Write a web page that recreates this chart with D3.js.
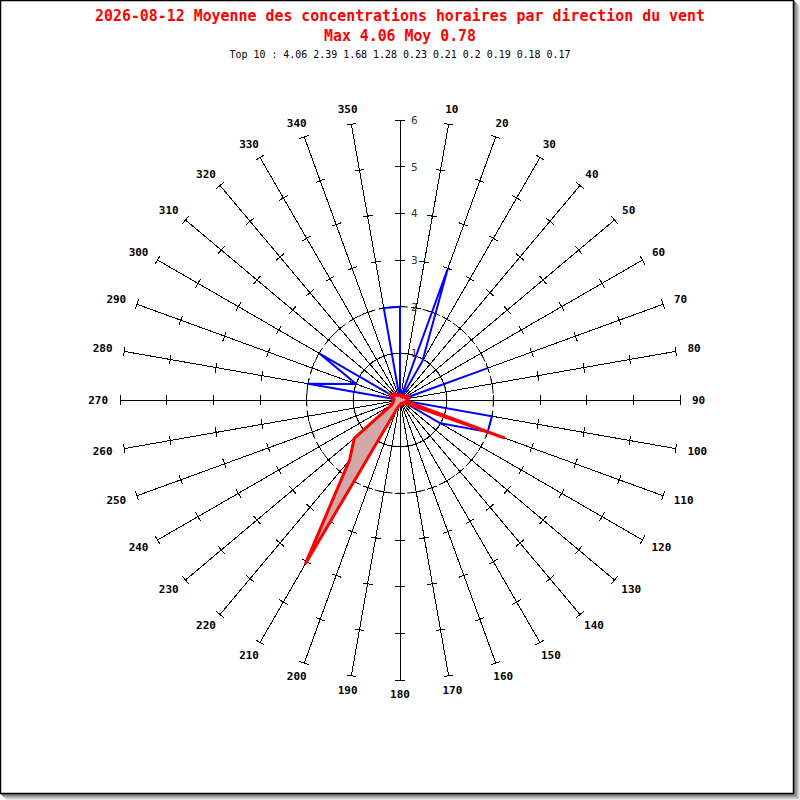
<!DOCTYPE html>
<html><head><meta charset="utf-8">
<script src="https://cdn.jsdelivr.net/npm/d3@7"></script>
<style>body{margin:0;background:#fff}svg{display:block}</style>
</head><body>
<svg id="chart" width="800" height="800"></svg>
<script>
// ---- data ----
const directions = [0,10,20,30,40,50,60,70,80,90,100,110,120,130,140,150,160,170,
                    180,190,200,210,220,230,240,250,260,270,280,290,300,310,320,330,340,350];
const seriesBlue = [2.0,0,3.0,0.96,0,0,0,2.0,0,0,2.0,2.0,1.0,0,0,0,0,0,
                    0,0,0,0,0,0,0,0,0,0,2.0,1.0,2.0,0,0,0,0,2.0];
const seriesRed  = [0.12,0.1,0.08,0.1,0.12,0.1,0.17,0.14,0.19,0.15,0.13,2.39,0.12,0.1,0.09,0.08,0.1,0.09,
                    0.11,0.13,0.2,4.06,1.68,1.28,0.21,0.16,0.14,0.15,0.13,0.16,0.23,0.15,0.18,0.12,0.1,0.11];
const radialTicks = [1,2,3,4,5,6];
const gridCircles = [1,2];
const titleText = "2026-08-12 Moyenne des concentrations horaires par direction du vent";
const subtitleText = "Max 4.06 Moy 0.78";
const top10 = [4.06,2.39,1.68,1.28,0.23,0.21,0.2,0.19,0.18,0.17];

// ---- layout ----
const svg = d3.select("#chart");
const cx = 400, cy = 400;
const r = d3.scaleLinear().domain([0, 6]).range([0, 280]);
const rad = d => d * Math.PI / 180;

// frame with shadow
const shadowCols = ["#777","#8a8a8a","#a0a0a0","#b8b8b8","#d0d0d0","#e6e6e6"];
shadowCols.slice().reverse().forEach((c, i) => {
  const o = 6 - i;
  svg.append("rect").attr("x", o).attr("y", o).attr("width", 794).attr("height", 794).attr("fill", c);
});
svg.append("rect").attr("x", 0.5).attr("y", 0.5).attr("width", 793).attr("height", 793)
   .attr("fill", "#fff").attr("stroke", "#000").attr("stroke-width", 1.5);

// titles
const mono = "'DejaVu Sans Mono', 'Liberation Mono', monospace";
svg.append("text").attr("x", 400).attr("y", 20.5).attr("text-anchor", "middle")
   .attr("font-family", mono).attr("font-weight", "bold").attr("font-size", 15)
   .attr("fill", "#ff0000").attr("textLength", 610).attr("lengthAdjust", "spacingAndGlyphs")
   .text(titleText);
svg.append("text").attr("x", 400).attr("y", 40.5).attr("text-anchor", "middle")
   .attr("font-family", mono).attr("font-weight", "bold").attr("font-size", 15)
   .attr("fill", "#ff0000").attr("textLength", 152).attr("lengthAdjust", "spacingAndGlyphs")
   .text(subtitleText);
svg.append("text").attr("x", 400).attr("y", 58).attr("text-anchor", "middle")
   .attr("font-family", mono).attr("font-size", 10.5)
   .attr("fill", "#000").attr("textLength", 341).attr("lengthAdjust", "spacingAndGlyphs")
   .text("Top 10 : " + top10.join(" "));

const g = svg.append("g").attr("transform", `translate(${cx},${cy})`);

// grid circles (dashed)
g.selectAll("circle.grid").data(gridCircles).join("circle")
  .attr("class", "grid").attr("r", d => r(d))
  .attr("fill", "none").attr("stroke", "#000").attr("stroke-width", 1)
  .attr("stroke-dasharray", "7,4");

// spokes
g.selectAll("line.spoke").data(directions).join("line")
  .attr("class", "spoke")
  .attr("x1", 0).attr("y1", 0)
  .attr("x2", d => d3.pointRadial(rad(d), r(6))[0])
  .attr("y2", d => d3.pointRadial(rad(d), r(6))[1])
  .attr("stroke", "#000").attr("stroke-width", 1).attr("shape-rendering", "crispEdges");

// ticks on each spoke
const tickData = [];
directions.forEach(a => radialTicks.forEach(t => tickData.push({a, t})));
g.selectAll("line.tick").data(tickData).join("line")
  .attr("class", "tick")
  .each(function(d) {
    const [px, py] = d3.pointRadial(rad(d.a), r(d.t));
    const ux = Math.cos(rad(d.a)), uy = Math.sin(rad(d.a));
    d3.select(this).attr("x1", px - 5 * ux).attr("y1", py - 5 * uy)
      .attr("x2", px + 5 * ux).attr("y2", py + 5 * uy);
  })
  .attr("stroke", "#000").attr("stroke-width", 1).attr("shape-rendering", "crispEdges");

// plots
const line = d3.lineRadial()
  .angle((d, i) => rad(directions[i]))
  .radius(d => r(d))
  .curve(d3.curveLinearClosed);

g.append("path").datum(seriesBlue)
  .attr("d", line).attr("fill", "none")
  .attr("stroke", "#0000ff").attr("stroke-width", 2).attr("stroke-linejoin", "miter");

g.append("path").datum(seriesRed)
  .attr("d", line).attr("fill", "#d4a8a8")
  .attr("stroke", "#ff0000").attr("stroke-width", 3).attr("stroke-linejoin", "miter");

// radial tick labels on the 0° spoke
g.selectAll("text.rlab").data(radialTicks).join("text")
  .attr("class", "rlab")
  .attr("x", 11).attr("y", d => -r(d))
  .attr("dominant-baseline", "central")
  .attr("font-family", "'DejaVu Sans', sans-serif").attr("font-size", 10.5)
  .attr("fill", "#333").text(d => d);

// direction labels
const labW = 6.6, labH = 7.5;
g.selectAll("text.alab").data(directions.filter(d => d !== 0)).join("text")
  .attr("class", "alab")
  .each(function(d) {
    const a = rad(d);
    const [px, py] = d3.pointRadial(a, r(6) + 10);
    const w = String(d).length * labW;
    const x = px + (w / 2 + 2) * Math.sin(a);
    const y = py - (labH / 2 + 1) * Math.cos(a);
    d3.select(this).attr("x", x).attr("y", y);
  })
  .attr("text-anchor", "middle").attr("dominant-baseline", "central")
  .attr("font-family", mono).attr("font-weight", "bold").attr("font-size", 11)
  .attr("fill", "#000").text(d => d);
</script>
</body></html>
